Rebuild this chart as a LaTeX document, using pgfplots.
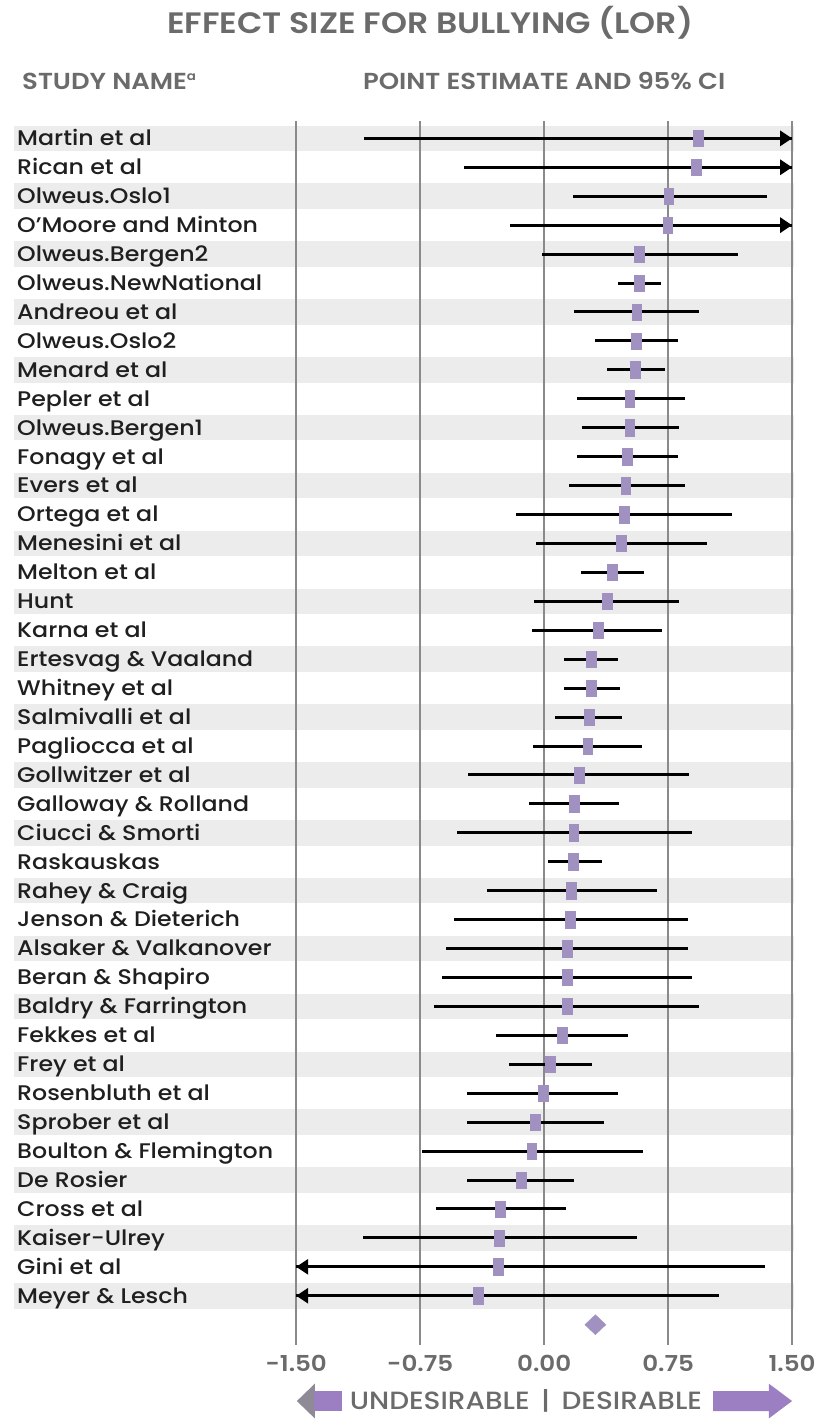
\documentclass[border=0pt]{standalone}
\usepackage{fontspec}
\setmainfont{Poppins}[FakeStretch=1.12]
\IfFontExistsTF{Poppins Medium}{\newfontfamily\med{Poppins Medium}[FakeStretch=1.12]}{\newfontfamily\med{Poppins}[FakeStretch=1.12]}
\IfFontExistsTF{Poppins SemiBold}{\newfontfamily\sbold{Poppins SemiBold}[FakeStretch=1.12]}{\newfontfamily\sbold{Poppins}[FakeStretch=1.12,UprightFont=*-Bold]}
\usepackage{pgfplots}
\pgfplotsset{compat=1.18}
\usepackage{pgfplotstable}
\usetikzlibrary{arrows.meta}
\definecolor{gridc}{HTML}{8A8A8A}
\definecolor{stripe}{HTML}{ECECEC}
\definecolor{lav}{HTML}{A091C0}
\definecolor{arr}{HTML}{9B7FC2}
\definecolor{arrhead}{HTML}{8E8A96}
\definecolor{hdr}{HTML}{6B6B6B}
\definecolor{lbl}{HTML}{1F1F1F}

\pgfplotstableread{
y est lo hi
41 0.934 -1.088 1.5
40 0.920 -0.487 1.5
39 0.753 0.175 1.350
38 0.747 -0.206 1.5
37 0.576 -0.012 1.173
36 0.576 0.445 0.709
35 0.560 0.181 0.934
34 0.556 0.310 0.809
33 0.549 0.383 0.730
32 0.518 0.200 0.851
31 0.518 0.231 0.816
30 0.501 0.198 0.809
29 0.493 0.150 0.851
28 0.483 -0.169 1.138
27 0.466 -0.048 0.986
26 0.414 0.223 0.605
25 0.379 -0.064 0.816
24 0.327 -0.075 0.711
23 0.285 0.123 0.445
22 0.285 0.119 0.460
21 0.273 0.067 0.470
20 0.264 -0.069 0.591
19 0.210 -0.460 0.878
18 0.181 -0.094 0.451
17 0.179 -0.526 0.897
16 0.177 0.021 0.347
15 0.166 -0.343 0.680
14 0.158 -0.543 0.872
13 0.139 -0.591 0.868
12 0.139 -0.618 0.893
11 0.137 -0.666 0.938
10 0.108 -0.293 0.508
9 0.035 -0.210 0.289
8 -0.008 -0.464 0.445
7 -0.052 -0.464 0.364
6 -0.075 -0.741 0.597
5 -0.141 -0.464 0.181
4 -0.266 -0.655 0.133
3 -0.273 -1.096 0.560
2 -0.280 -1.5 1.338
1 -0.397 -1.5 1.057
}\studies

\begin{document}
\begin{tikzpicture}
\begin{axis}[
  set layers,
  scale only axis, width=248.5pt, height=613.35pt,
  xmin=-1.5, xmax=1.5, ymin=-0.7, ymax=41.6,
  clip=false,
  axis line style={draw=none},
  major tick length=0pt,
  xtick={-1.5,-0.75,0,0.75,1.5},
  xticklabels={-1.50,-0.75,0.00,0.75,1.50},
  xmajorgrids,
  grid style={gridc, line width=0.8pt},
  xticklabel style={font=\sbold\fontsize{11}{12}\selectfont, text=hdr, inner sep=2pt, yshift=-3pt},
  ytick={1,...,41},
  yticklabels={Meyer \& Lesch, Gini et al, Kaiser-Ulrey, Cross et al, De Rosier, Boulton \& Flemington, Sprober et al, Rosenbluth et al, Frey et al, Fekkes et al, Baldry \& Farrington, Beran \& Shapiro, Alsaker \& Valkanover, Jenson \& Dieterich, Rahey \& Craig, Raskauskas, Ciucci \& Smorti, Galloway \& Rolland, Gollwitzer et al, Pagliocca et al, Salmivalli et al, Whitney et al, Ertesvag \& Vaaland, Karna et al, Hunt, Melton et al, Menesini et al, Ortega et al, Evers et al, Fonagy et al, Olweus.Bergen1, Pepler et al, Menard et al, Olweus.Oslo2, Andreou et al, Olweus.NewNational, Olweus.Bergen2, O’Moore and Minton, Olweus.Oslo1, Rican et al, Martin et al},
  yticklabel style={font=\med\fontsize{10.6}{11}\selectfont, text=lbl, anchor=west,
    inner xsep=0pt, inner ysep=0pt, text height=7.4pt, text depth=0pt, xshift=-140pt},
]
\begin{pgfonlayer}{axis background}
\pgfplotsinvokeforeach{1,3,...,41}{
  \fill[stripe] (axis cs:-3.21,#1-0.44) rectangle (axis cs:1.51,#1+0.44);
}
\end{pgfonlayer}

% confidence intervals
\addplot[only marks, mark=none,
  error bars/.cd, x dir=both, x explicit, error mark=none,
  error bar style={line width=1.5pt, draw=black}]
  table[x=est, y=y, x error plus expr=\thisrow{hi}-\thisrow{est},
        x error minus expr=\thisrow{est}-\thisrow{lo}] {\studies};

% truncated intervals
\addplot[black, line width=1.5pt, -{Triangle[length=6pt,width=7.5pt]}] coordinates {(1.3,41) (1.5,41)};
\addplot[black, line width=1.5pt, -{Triangle[length=6pt,width=7.5pt]}] coordinates {(1.3,40) (1.5,40)};
\addplot[black, line width=1.5pt, -{Triangle[length=6pt,width=7.5pt]}] coordinates {(1.3,38) (1.5,38)};
\addplot[black, line width=1.5pt, -{Triangle[length=6pt,width=7.5pt]}] coordinates {(-1.3,2) (-1.5,2)};
\addplot[black, line width=1.5pt, -{Triangle[length=6pt,width=7.5pt]}] coordinates {(-1.3,1) (-1.5,1)};

% point estimates
\addplot[only marks, color=lav, mark=square*, mark size=4.1pt,
  mark options={xscale=0.6, draw=lav, fill=lav, line width=0.2pt}]
  table[x=est, y=y] {\studies};

% summary
\addplot[only marks, color=lav, mark=diamond*, mark size=5pt,
  mark options={xscale=1.4, draw=lav, fill=lav, line width=0.2pt}] coordinates {(0.31,0)};

% titles
\node[font=\sbold\fontsize{14.8}{16}\selectfont, text=hdr] at (axis cs:-0.69,44.98) {EFFECT SIZE FOR BULLYING (LOR)};
\node[font=\sbold\fontsize{11.6}{13}\selectfont, text=hdr, anchor=west, inner xsep=0pt] at (axis cs:-3.16,42.98) {STUDY NAME\textsuperscript{\fontsize{6}{6}\selectfont a}};
\node[font=\sbold\fontsize{11.6}{13}\selectfont, text=hdr] at (axis cs:0,42.98) {POINT ESTIMATE AND 95\% CI};

% bottom direction arrows
\fill[arrhead] (axis cs:-1.496,-2.638) -- (axis cs:-1.387,-2.035) -- (axis cs:-1.387,-3.241) -- cycle;
\fill[arr] (axis cs:-1.39,-2.293) -- (axis cs:-1.225,-2.293) -- (axis cs:-1.225,-2.983) -- (axis cs:-1.39,-2.983) -- cycle;
\fill[arr] (axis cs:1.50,-2.638) -- (axis cs:1.359,-2.035) -- (axis cs:1.359,-2.293)
  -- (axis cs:1.023,-2.293) -- (axis cs:1.023,-2.983) -- (axis cs:1.359,-2.983)
  -- (axis cs:1.359,-3.241) -- cycle;
\node[font=\med\fontsize{12.5}{13}\selectfont, text=hdr] at (axis cs:-0.11,-2.638) {UNDESIRABLE \,|\, DESIRABLE};

% page frame
\path (axis cs:-3.292,-3.4314) rectangle (axis cs:1.657,45.672);
\end{axis}
\end{tikzpicture}
\end{document}
